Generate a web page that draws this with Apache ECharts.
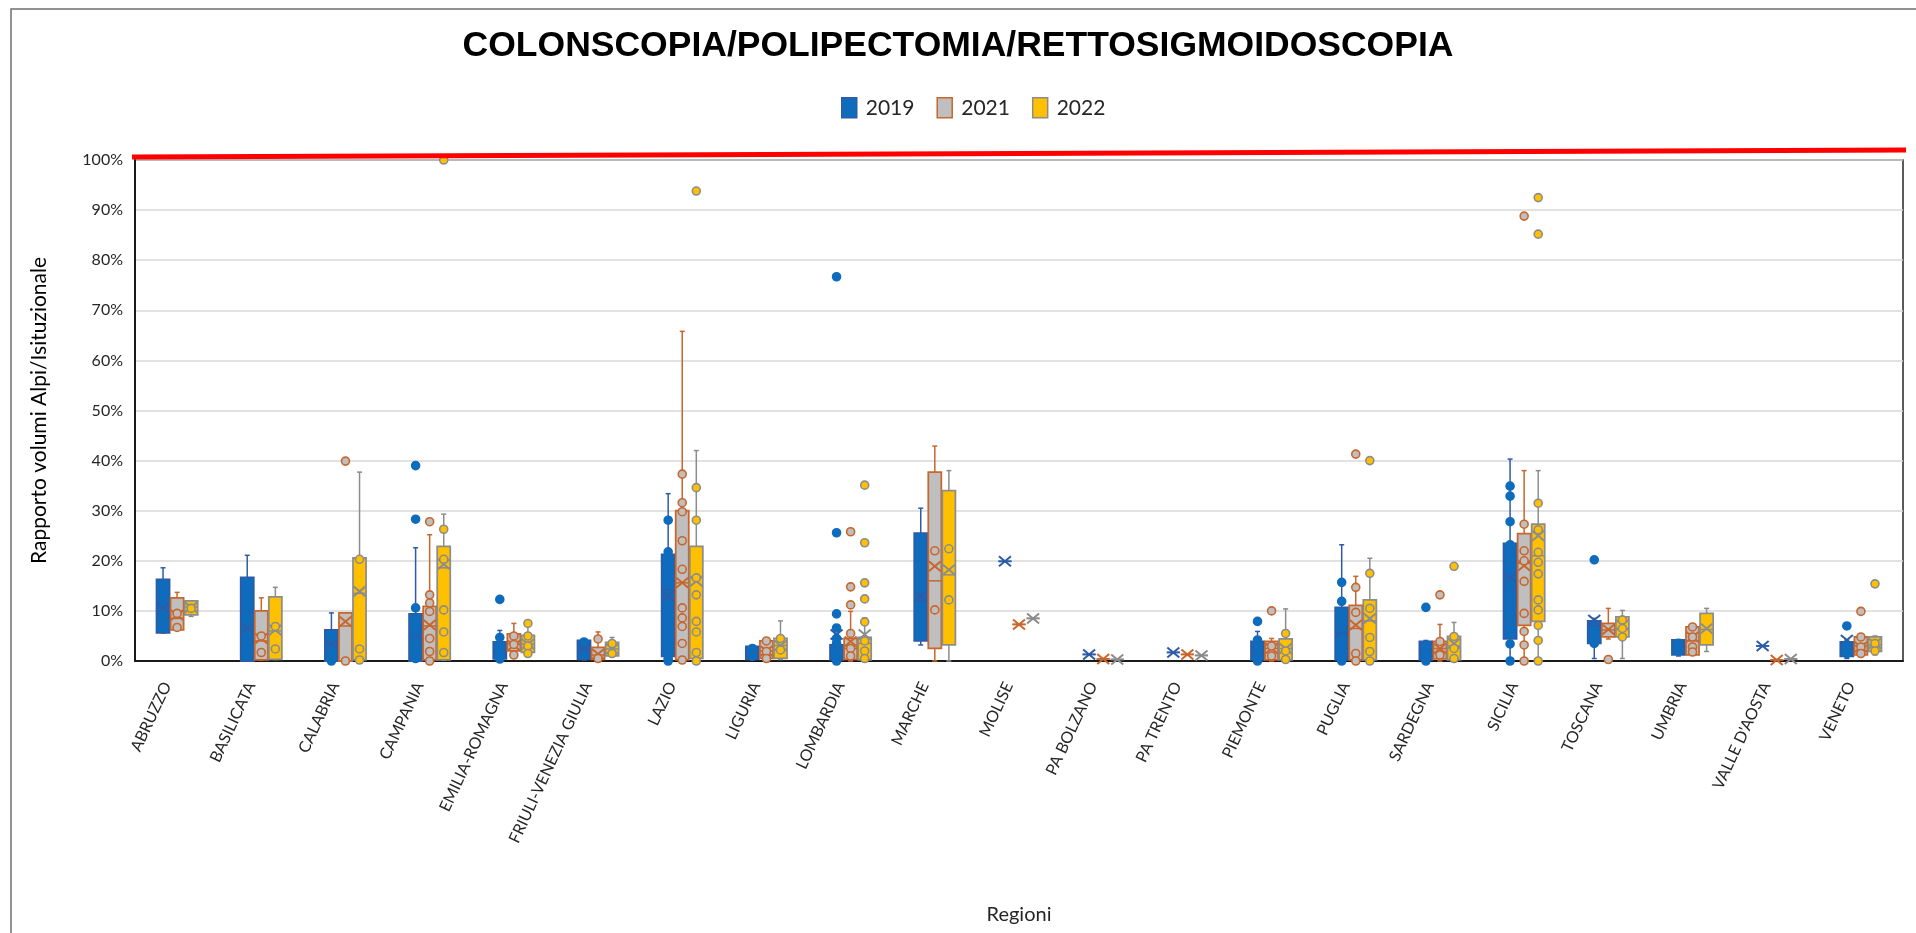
<!DOCTYPE html>
<html>
<head>
<meta charset="utf-8">
<script src="https://cdn.jsdelivr.net/npm/echarts@6/dist/echarts.min.js"></script>
<style>
html,body{margin:0;padding:0;background:#fff;}
#chart{width:1916px;height:933px;}
</style>
</head>
<body>
<div id="chart"></div>
<script>
// ---------------- DATA ----------------
const categories = ['ABRUZZO','BASILICATA','CALABRIA','CAMPANIA','EMILIA-ROMAGNA','FRIULI-VENEZIA GIULIA','LAZIO','LIGURIA','LOMBARDIA','MARCHE','MOLISE','PA BOLZANO','PA TRENTO','PIEMONTE','PUGLIA','SARDEGNA','SICILIA','TOSCANA','UMBRIA',"VALLE D'AOSTA",'VENETO'];
const years = ['2019','2021','2022'];
const yTicks = [0,10,20,30,40,50,60,70,80,90,100];

// box stats in % : [min, Q1, median, Q3, max]
const box2019 = [
  [5.6,5.6,8.5,16.3,18.6],[0,0,3.9,16.7,21.1],[0,0,3.5,6.2,9.6],[0,0,4,9.4,22.6],[0.2,0.4,2,3.8,6.1],
  [0.2,0.3,2.4,4.1,4.3],[0,0.9,14.2,21.3,33.4],[0.2,0.3,1.9,2.9,3.1],[0,0.2,1.8,3.2,5.5],[3.2,4,12,25.5,30.5],
  [19.9,19.9,19.9,19.9,19.9],[1.3,1.3,1.3,1.3,1.3],[1.7,1.7,1.7,1.7,1.7],[0,0.2,1.6,3.9,5.9],[0,0.2,5.5,10.7,23.2],
  [0,0.2,2.4,3.9,4.1],[0,4.4,14.5,23.5,40.3],[0.5,3.5,7,8,8.5],[1,1.2,2.8,4.2,4.3],[3,3,3,3,3],[0.5,0.9,2.5,3.8,4.2]
];
const box2021 = [
  [6.2,6.2,8.5,12.6,13.7],[0.2,0.2,4,10,12.6],[0,0,7,9.6,9.6],[0,0.2,7,10.9,25.2],[0.7,2,3.4,5.4,7.5],
  [0.3,0.3,1.2,2.7,5.8],[0,0.2,15.6,30,65.8],[0.3,0.5,2,4,4.2],[0,0.3,2.5,4.5,9.9],[0,2.5,16,37.7,42.9],
  [7.3,7.3,7.3,7.3,7.3],[0.4,0.4,0.4,0.4,0.4],[1.3,1.3,1.3,1.3,1.3],[0,0.2,2.5,3.9,4.5],[0,0.2,6.5,11.1,16.9],
  [0,0.4,2.5,3.9,7.3],[0,7.1,19.5,25.4,38],[4.4,4.8,6.2,7.5,10.5],[1.2,1.2,4,6.8,6.8],[0.2,0.2,0.2,0.2,0.2],[1,1.2,3,4.8,5]
];
const box2022 = [
  [8.9,9.2,10.8,12,12],[0.3,0.3,6,12.8,14.7],[0.2,0.2,13.5,20.6,37.7],[0.2,0.2,18.6,22.9,29.3],[1.2,1.7,3.4,5.1,7.5],
  [1,1,2.4,3.7,4.7],[0,0.5,16.6,22.9,42],[0.3,0.5,3.1,4.5,8],[0,0.2,3.5,4.7,8.6],[0,3.2,17.2,34,38],
  [8.5,8.5,8.5,8.5,8.5],[0.3,0.3,0.3,0.3,0.3],[1.1,1.1,1.1,1.1,1.1],[0,0.2,2.5,4.4,10.4],[0,0.2,8,12.2,20.5],
  [0,0.2,3,4.9,7.7],[0,7.9,21,27.3,38],[0.5,4.8,6.5,8.8,10.1],[1.9,3.2,6.3,9.5,10.5],[0.4,0.4,0.4,0.4,0.4],[1.2,1.9,3.2,4.8,5]
];

// means (%)
const mean2019 = [10.6,6.6,3.2,5.2,2.4,2.4,12.9,1.8,5.3,12.9,19.9,1.3,1.7,1.9,5.9,2.5,16.6,8.2,2.8,3,4.2];
const mean2021 = [9.2,4.5,7.9,7.2,3.1,1.4,15.6,2,3.9,18.9,7.3,0.4,1.3,2.5,7.2,2.5,19,6.3,4.8,0.2,2.8];
const mean2022 = [10.7,6.2,13.9,19.3,3.4,2.4,15.9,3.1,5.3,18.2,8.5,0.3,1.1,2.5,8.5,3.5,25,7.2,6.5,0.4,3.5];

// individual points (inner points and outliers, %)
const points2019 = [
  [6.9,8.6,12.5],[1.5,3.9],[0,2,4.8],[39,28.3,10.6,6,4,2.5,0.5],[12.3,4.7,3,1.5,0.4],
  [3.8,1.2],[28.1,21.8,20.5,18.2,15.3,11.3,5.9,3,0.5,0],[2.5,1],[76.7,25.6,9.4,6.6,4.5,3.5,2,0.5,0],[10.2,7.2],
  [],[],[],[7.9,4.2,2,0.5,0],[15.7,11.9,6.5,3.5,0.5,0],
  [10.7,3,1.5,0],[34.9,32.9,27.8,23.2,20.8,18,15.3,12.5,9.2,6.5,3.4,0],[20.2,6,4.5,3.5],[3.5,2],[],[7,3,1.5]
];
const points2021 = [
  [6.7,9.5],[1.7,5],[39.9,0],[27.8,13.2,11.6,9.9,4.5,1.9,0],[5,3.3,1.2],
  [4.4,0.5],[37.3,31.6,29.8,24,18.3,10.6,8.6,6.9,3.5,0.2],[4,1.9,0.5],[25.8,14.8,11.2,5.5,2.5,1],[22,10.2],
  [],[],[],[10,3,1],[41.3,14.7,9.7,1.5,0],
  [13.2,3.9,1.2],[88.8,27.3,22,20,15.9,9.5,5.9,3.2,0],[0.3],[6.8,4.8,2.8,1.8],[],[9.9,4.8,2.8,1.5]
];
const points2022 = [
  [10.5],[6.9,2.4],[20.3,2.4,0.2],[100,26.3,20.3,10.2,5.8,1.7],[7.5,5,3,1.5],
  [3.5,1.5],[93.8,34.6,28.1,16.6,13.2,7.9,5.8,1.7,0],[4.5,2.2],[35.1,23.6,15.6,12.4,7.8,4,2,0.5],[22.4,12.2],
  [],[],[],[5.5,2,0.3],[40,17.5,10.5,4.7,1.9,0],
  [18.9,4.9,2.5,0.5],[92.5,85.2,31.5,26.2,21.7,19.7,17.4,12.2,10.2,7.1,4.1,0],[8.2,6.5,4.8],[],[],[15.4,3.5,2]
];

// ---------------- STYLE ----------------
const STY = [
  {fill:'#0F6CBD', stroke:'#2D5CA6'},
  {fill:'#BFBFBF', stroke:'#C8662C'},
  {fill:'#FFC000', stroke:'#8C8C8C'}
];
const OFFS = [-0.167, 0, 0.167];
const BOXES = [box2019, box2021, box2022];
const MEANS = [mean2019, mean2021, mean2022];
const POINTS = [points2019, points2021, points2022];
const TXT = '#262626';
const FONT = 'Lato, "Open Sans", sans-serif';

function boxRenderer(k) {
  const st = STY[k];
  return function (params, api) {
    const i = api.value(0);
    const band = api.size([1, 0])[0];
    const w = band * 0.155;
    const cx = api.coord([i, 0])[0] + OFFS[k] * band;
    const y = j => api.coord([i, api.value(j)])[1];
    const yMin = y(1), yQ1 = y(2), yMed = y(3), yQ3 = y(4), yMax = y(5), yMean = y(6);
    const ls = {stroke: st.stroke, lineWidth: 1.5};
    return {
      type: 'group',
      children: [
        {type:'line', shape:{x1:cx,y1:yQ3,x2:cx,y2:yMax}, style:ls},
        {type:'line', shape:{x1:cx,y1:yQ1,x2:cx,y2:yMin}, style:ls},
        {type:'line', shape:{x1:cx-2.5,y1:yMax,x2:cx+2.5,y2:yMax}, style:ls},
        {type:'line', shape:{x1:cx-2.5,y1:yMin,x2:cx+2.5,y2:yMin}, style:ls},
        {type:'rect', shape:{x:cx-w/2, y:yQ3, width:w, height:Math.max(yQ1-yQ3,0)}, style:{fill:st.fill, stroke:st.stroke, lineWidth:1.75}},
        {type:'line', shape:{x1:cx-w/2,y1:yMed,x2:cx+w/2,y2:yMed}, style:ls},
        {type:'line', shape:{x1:cx-6,y1:yMean-5,x2:cx+6,y2:yMean+5}, style:{stroke:st.stroke, lineWidth:2}},
        {type:'line', shape:{x1:cx-6,y1:yMean+5,x2:cx+6,y2:yMean-5}, style:{stroke:st.stroke, lineWidth:2}}
      ]
    };
  };
}

const series = [];
for (let k = 0; k < 3; k++) {
  series.push({
    type: 'custom',
    name: years[k],
    renderItem: boxRenderer(k),
    encode: {x: 0, y: [1,2,3,4,5,6]},
    data: BOXES[k].map((b, i) => [i].concat(b, [MEANS[k][i]])),
    itemStyle: {color: STY[k].fill, borderColor: STY[k].stroke},
    z: 2
  });
}
for (let k = 0; k < 3; k++) {
  const pts = [];
  POINTS[k].forEach((arr, i) => arr.forEach(v => pts.push([i, v])));
  series.push({
    type: 'scatter',
    name: years[k],
    data: pts,
    symbol: 'circle',
    symbolSize: 8,
    symbolOffset: [OFFS[k] * 84.2, 0],
    clip: false,
    itemStyle: {color: STY[k].fill, borderColor: k === 0 ? STY[k].fill : STY[k].stroke, borderWidth: 1.6, opacity: 1},
    z: 3
  });
}

const chart = echarts.init(document.getElementById('chart'), null, {renderer: 'canvas'});
chart.setOption({
  animation: false,
  backgroundColor: '#fff',
  title: {
    text: 'COLONSCOPIA/POLIPECTOMIA/RETTOSIGMOIDOSCOPIA',
    left: 'center',
    top: 23,
    textStyle: {fontFamily: '"Liberation Sans", Arial, sans-serif', fontWeight: 'bold', fontSize: 35.5, color: '#000'}
  },
  legend: {
    top: 92,
    left: 836,
    itemWidth: 15,
    itemHeight: 20,
    itemGap: 22,
    icon: 'rect',
    textStyle: {fontFamily: FONT, fontSize: 21, color: TXT, padding: [0,0,0,4]},
    data: years.map((y, k) => ({name: y, itemStyle: {color: STY[k].fill, borderColor: STY[k].stroke, borderWidth: 1.5}}))
  },
  grid: {left: 135, right: 13, top: 160, bottom: 272, show: true, borderColor: '#262626', borderWidth: 1.5},
  xAxis: {
    type: 'category',
    data: categories,
    name: 'Regioni',
    nameLocation: 'middle',
    nameGap: 244,
    nameTextStyle: {fontFamily: FONT, fontSize: 20, color: TXT},
    axisLine: {show: true, lineStyle: {color: '#1a1a1a', width: 2}},
    axisTick: {show: false},
    splitLine: {show: false},
    axisLabel: {interval: 0, rotate: 65, margin: 19, verticalAlign: 'bottom', padding: [0, 7, 0, 0], fontFamily: FONT, fontSize: 16, color: TXT}
  },
  yAxis: {
    type: 'value',
    min: yTicks[0],
    max: yTicks[yTicks.length - 1],
    interval: 10,
    name: 'Rapporto volumi Alpi/Isituzionale',
    nameLocation: 'middle',
    nameGap: 85,
    nameTextStyle: {fontFamily: FONT, fontSize: 21, color: '#000'},
    axisLine: {show: true, lineStyle: {color: '#1a1a1a', width: 2}},
    axisTick: {show: false},
    splitLine: {show: true, lineStyle: {color: '#D9D9D9', width: 1.5}},
    axisLabel: {formatter: '{value}%', fontFamily: FONT, fontSize: 16, color: TXT, margin: 12}
  },
  graphic: [
    {type: 'polyline', shape: {points: [[11, 933], [11, 9], [1916, 9]]}, style: {stroke: '#6f6f6f', lineWidth: 1.5, fill: null}, silent: true},
    {type: 'line', shape: {x1: 132, y1: 157, x2: 1906, y2: 150}, style: {stroke: '#FF0000', lineWidth: 5}, z: 100, silent: true}
  ],
  series: series
});
</script>
</body>
</html>
